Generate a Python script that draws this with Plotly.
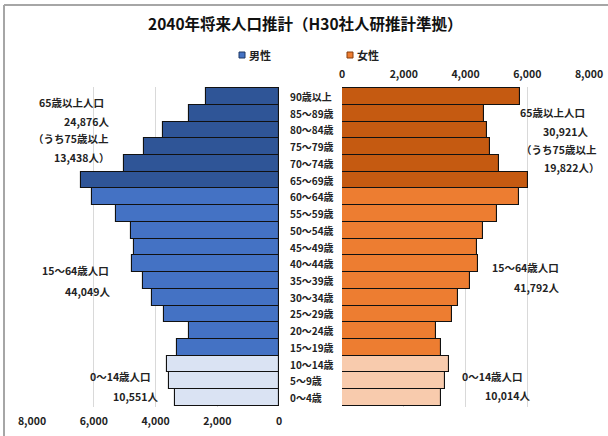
import plotly.graph_objects as go

W, H = 608, 436

age_labels = ["0～4歳", "5～9歳", "10～14歳", "15～19歳", "20～24歳", "25～29歳",
              "30～34歳", "35～39歳", "40～44歳", "45～49歳", "50～54歳", "55～59歳",
              "60～64歳", "65～69歳", "70～74歳", "75～79歳", "80～84歳", "85～89歳", "90歳以上"]
male = [3380, 3550, 3620, 3310, 2900, 3730, 4120, 4420, 4770, 4710,
        4790, 5280, 6060, 6420, 5020, 4370, 3770, 2910, 2380]
female = [3200, 3350, 3450, 3200, 3040, 3560, 3770, 4130, 4390, 4370,
          4580, 5020, 5720, 6020, 5090, 4780, 4680, 4600, 5760]
groups = ["0-14"] * 3 + ["15-64"] * 10 + ["65+"] * 6
male_colors = {"0-14": "#DAE3F3", "15-64": "#4472C4", "65+": "#2F5597"}
female_colors = {"0-14": "#F8CBAD", "15-64": "#ED7D31", "65+": "#C55A11"}
tick_vals = [0, 2000, 4000, 6000, 8000]

title = "2040年将来人口推計（H30社人研推計準拠）"
legend_names = ["男性", "女性"]
left_notes = ["65歳以上人口", "24,876人", "（うち75歳以上", "13,438人）",
              "15～64歳人口", "44,049人", "0～14歳人口", "10,551人"]
right_notes = ["65歳以上人口", "30,921人", "（うち75歳以上", "19,822人）",
               "15～64歳人口", "41,792人", "0～14歳人口", "10,014人"]

FONT = "Noto Sans CJK JP"


def fx(px):
    return px / W


def fy(py):
    return 1 - py / H


fig = go.Figure()
fig.add_trace(go.Bar(
    y=age_labels, x=male, orientation="h", xaxis="x", yaxis="y",
    marker=dict(color=[male_colors[g] for g in groups], line=dict(color="#111111", width=1.1)),
    name=legend_names[0], showlegend=False, hoverinfo="x+y"))
fig.add_trace(go.Bar(
    y=age_labels, x=female, orientation="h", xaxis="x2", yaxis="y",
    marker=dict(color=[female_colors[g] for g in groups], line=dict(color="#111111", width=1.1)),
    name=legend_names[1], showlegend=False, hoverinfo="x+y"))

tickfont = dict(family=FONT, size=10.5, color="#222222", weight="bold")
fig.update_layout(
    width=W, height=H,
    margin=dict(l=0, r=0, t=0, b=0),
    paper_bgcolor="white", plot_bgcolor="rgba(0,0,0,0)",
    bargap=0,
    font=dict(family=FONT, color="#222222"),
    xaxis=dict(domain=[fx(32), fx(279)], range=[8000, 0], tickvals=tick_vals,
               tickformat=",", side="bottom", anchor="y", showgrid=True,
               gridcolor="#D9D9D9", gridwidth=1, zeroline=False, showline=False,
               ticks="", tickfont=tickfont, ticklabelstandoff=6, automargin=False,
               fixedrange=True),
    xaxis2=dict(domain=[fx(342), fx(589)], range=[0, 8000], tickvals=tick_vals,
                tickformat=",", side="top", anchor="y", showgrid=True,
                gridcolor="#D9D9D9", gridwidth=1, zeroline=False, showline=False,
                ticks="", tickfont=tickfont, ticklabelstandoff=6, automargin=False,
                fixedrange=True),
    yaxis=dict(domain=[fy(407), fy(87)], type="category", categoryorder="array",
               categoryarray=age_labels, anchor="free", position=fx(286),
               showgrid=False, zeroline=False, showline=False, ticks="",
               showticklabels=False, automargin=False, fixedrange=True),
    showlegend=False,
)

annotations = [dict(text=title, x=fx(305), y=fy(23), xref="paper", yref="paper",
                    showarrow=False, xanchor="center", yanchor="middle",
                    font=dict(family=FONT, size=15.5, color="#111111", weight="bold"))]

# centre age labels
for lab in age_labels:
    annotations.append(dict(text=lab, x=fx(288), y=lab, xref="paper", yref="y",
                            showarrow=False, xanchor="left", yanchor="middle",
                            font=dict(family=FONT, size=10, color="#222222", weight="bold")))

# legend (manual)
annotations.append(dict(text=legend_names[0], x=fx(247), y=fy(55), xref="paper", yref="paper",
                        showarrow=False, xanchor="left", yanchor="middle",
                        font=dict(family=FONT, size=11, color="#222222", weight="bold")))
annotations.append(dict(text=legend_names[1], x=fx(355), y=fy(55), xref="paper", yref="paper",
                        showarrow=False, xanchor="left", yanchor="middle",
                        font=dict(family=FONT, size=11, color="#222222", weight="bold")))

left_pos = [(37, 103), (62, 121), (31, 139), (52, 157), (40, 270), (63, 291), (88, 376), (111, 396)]
right_pos = [(518, 113), (541, 131), (519, 149), (542, 167), (490, 267), (512, 287), (460, 376), (483, 395)]
for txt, (px, py) in list(zip(left_notes, left_pos)) + list(zip(right_notes, right_pos)):
    annotations.append(dict(text=txt, x=fx(px), y=fy(py), xref="paper", yref="paper",
                            showarrow=False, xanchor="left", yanchor="middle",
                            font=dict(family=FONT, size=10.5, color="#222222", weight="bold")))
fig.update_layout(annotations=annotations)

shapes = [
    dict(type="rect", xref="paper", yref="paper", x0=fx(239), x1=fx(245), y0=fy(52), y1=fy(58),
         fillcolor=male_colors["15-64"], line=dict(color="#1F3864", width=1)),
    dict(type="rect", xref="paper", yref="paper", x0=fx(347), x1=fx(353), y0=fy(52), y1=fy(58),
         fillcolor=female_colors["15-64"], line=dict(color="#843C0C", width=1)),
    dict(type="line", xref="paper", yref="paper", x0=fx(4), x1=fx(610), y0=fy(5), y1=fy(5),
         line=dict(color="#A6A6A6", width=2)),
    dict(type="line", xref="paper", yref="paper", x0=fx(4), x1=fx(4), y0=fy(5), y1=fy(440),
         line=dict(color="#A6A6A6", width=2)),
]
fig.update_layout(shapes=shapes)

fig.write_html("out.html", config={"displayModeBar": False},
               post_script="document.body.style.margin='0';document.body.style.overflow='hidden';")
